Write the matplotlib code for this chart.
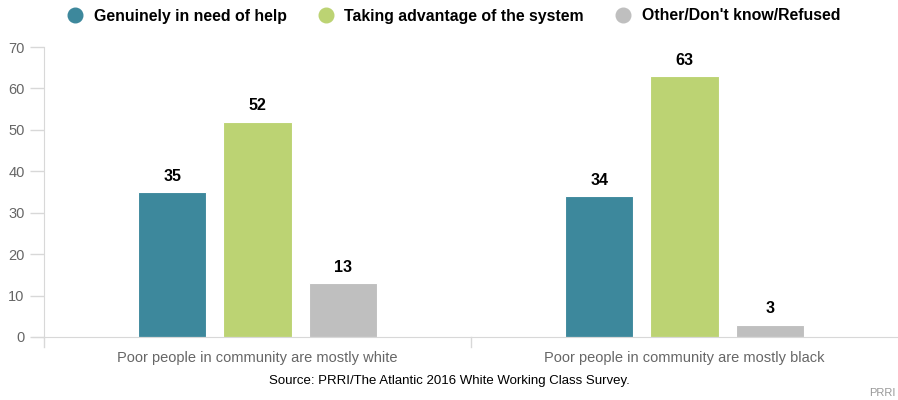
import matplotlib
matplotlib.use("Agg")
import matplotlib.pyplot as plt
from matplotlib.lines import Line2D
import numpy as np

plt.rcParams['font.family'] = ['Liberation Sans', 'DejaVu Sans']

categories = ["Poor people in community are mostly white",
              "Poor people in community are mostly black"]
series_names = ["Genuinely in need of help",
                "Taking advantage of the system",
                "Other/Don't know/Refused"]
values = {
    "Genuinely in need of help": [35, 34],
    "Taking advantage of the system": [52, 63],
    "Other/Don't know/Refused": [13, 3],
}
colors = ["#3d889c", "#bcd373", "#bfbfbf"]
y_ticks = [0, 10, 20, 30, 40, 50, 60, 70]

fig = plt.figure(figsize=(8.98, 4.0), dpi=100)
W, H = 898, 400
ax = fig.add_axes([44 / W, 1 - 337 / H, (898 - 44) / W, (337 - 47) / H])

x = np.arange(len(categories))
bar_w = 0.16
offsets = [-0.2, 0.0, 0.2]
for name, off, col in zip(series_names, offsets, colors):
    vals = values[name]
    ax.bar(x + off, vals, width=bar_w, color=col, edgecolor='white', linewidth=0.8, zorder=2)
    for xi, v in zip(x, vals):
        ax.annotate(f"{v}", (xi + off, v), xytext=(0, 6), textcoords='offset points',
                    ha='center', va='bottom', fontsize=11.5, fontweight='bold', color='#000000')

ax.set_xlim(-0.5, 1.5)
ax.set_ylim(0, 70)
ax.set_yticks(y_ticks)
ax.set_yticklabels([str(t) for t in y_ticks], fontsize=10.5, color='#666666')
ax.tick_params(axis='y', length=10, width=1, color='#d8d8d8', pad=4)

ax.set_xticks(x)
ax.set_xticklabels(categories, fontsize=10.5, color='#666666')
ax.tick_params(axis='x', length=0, pad=10)
# boundary ticks between categories
for bx in [-0.5, 0.5]:
    ax.plot([bx, bx], [0, -0.035], transform=ax.get_xaxis_transform(), color='#d8d8d8',
            linewidth=1, clip_on=False)

for s in ['top', 'right']:
    ax.spines[s].set_visible(False)
ax.spines['left'].set_color('#d8d8d8')
ax.spines['bottom'].set_color('#d8d8d8')
ax.spines['bottom'].set_bounds(-0.5 - 11 / 427, 1.5)
ax.spines['bottom'].set_zorder(3)

# legend
handles = [Line2D([0], [0], marker='o', linestyle='', markersize=10.5,
                  markerfacecolor=c, markeredgecolor=c) for c in colors]
fig.legend(handles, series_names, loc='center', bbox_to_anchor=(0.5 + 4 / W, 1 - 16 / H),
           ncol=3, frameon=False, prop={'weight': 'bold', 'size': 11.4},
           handletextpad=0.55, columnspacing=1.9, handlelength=1.2)

fig.text(0.5, 1 - 381 / H, "Source: PRRI/The Atlantic 2016 White Working Class Survey.",
         ha='center', va='center', fontsize=9.5, color='#000000')
fig.text(896 / W, 1 - 393 / H, "PRRI", ha='right', va='center', fontsize=8, color='#999999')

fig.savefig("out.png", dpi=100)
